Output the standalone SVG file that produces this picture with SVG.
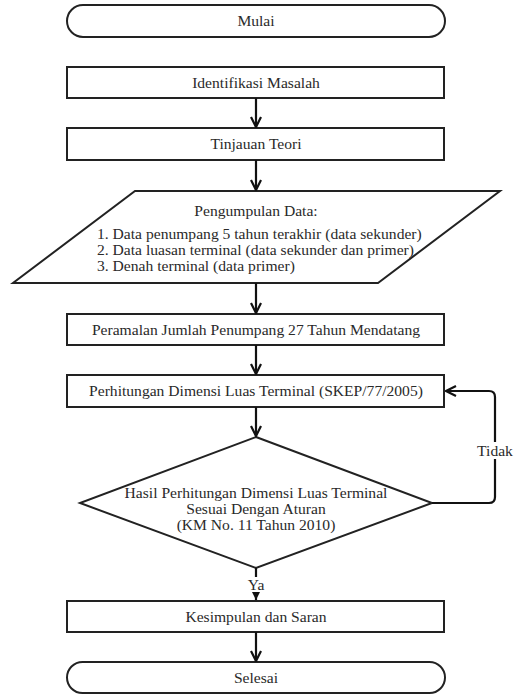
<svg xmlns="http://www.w3.org/2000/svg" width="518" height="694" viewBox="0 0 518 694" font-family="Liberation Serif, Tinos, Times New Roman, DejaVu Serif, serif">
<defs>
<style>
.n{fill:#fff;stroke:#222;stroke-width:2}
.t{font-size:15.6px;fill:#2a2a2a;text-anchor:middle}
.c{fill:none;stroke:#111;stroke-width:2.2}
</style>
<marker id="ah" viewBox="0 0 12 12" refX="11" refY="6" markerWidth="12" markerHeight="12" markerUnits="userSpaceOnUse" orient="auto">
<path d="M1,1 L11,6 L1,11" fill="none" stroke="#111" stroke-width="2.2"/>
</marker>
<marker id="tri" viewBox="0 0 10 10" refX="10" refY="5" markerWidth="8" markerHeight="8" markerUnits="userSpaceOnUse" orient="auto">
<path d="M0,0 L10,5 L0,10 Z" fill="#111"/>
</marker>
</defs>
<rect width="518" height="694" fill="#fff"/>
<g id="mulai"><rect class="n" x="67" y="5" width="378" height="32" rx="16"/><text class="t" x="256" y="26">Mulai</text></g>
<g id="identifikasi"><rect class="n" x="67" y="67" width="377" height="31"/><text class="t" x="256" y="87.5">Identifikasi Masalah</text></g>
<g id="tinjauan"><rect class="n" x="67" y="128" width="377" height="32"/><text class="t" x="256" y="149">Tinjauan Teori</text></g>
<g id="pengumpulan"><polygon class="n" points="135,191 500,191 378,283 13,283"/>
<text class="t" x="256" y="216">Pengumpulan Data:</text>
<text class="t" x="97" y="239" style="text-anchor:start">1. Data penumpang 5 tahun terakhir (data sekunder)</text>
<text class="t" x="97" y="255" style="text-anchor:start">2. Data luasan terminal (data sekunder dan primer)</text>
<text class="t" x="97" y="271" style="text-anchor:start">3. Denah terminal (data primer)</text>
</g>
<g id="peramalan"><rect class="n" x="67" y="314" width="377" height="31"/><text class="t" x="256" y="334.5">Peramalan Jumlah Penumpang 27 Tahun Mendatang</text></g>
<g id="perhitungan"><rect class="n" x="67" y="375" width="377" height="32"/><text class="t" x="256" y="396">Perhitungan Dimensi Luas Terminal (SKEP/77/2005)</text></g>
<g id="keputusan"><polygon class="n" points="256,437 432,503 256,568 80,503"/>
<text class="t" x="256" y="497.5">Hasil Perhitungan Dimensi Luas Terminal</text>
<text class="t" x="256" y="513.5">Sesuai Dengan Aturan</text>
<text class="t" x="256" y="529.5">(KM No. 11 Tahun 2010)</text>
</g>
<g id="kesimpulan"><rect class="n" x="67" y="601" width="377" height="31"/><text class="t" x="256" y="621.5">Kesimpulan dan Saran</text></g>
<g id="selesai"><rect class="n" x="67" y="662" width="378" height="31" rx="15.5"/><text class="t" x="256" y="682.5">Selesai</text></g>
<g id="connectors">
<line class="c" x1="256" y1="98" x2="256" y2="127" marker-end="url(#ah)"/>
<line class="c" x1="256" y1="160" x2="256" y2="190" marker-end="url(#ah)"/>
<line class="c" x1="256" y1="283" x2="256" y2="313" marker-end="url(#ah)"/>
<line class="c" x1="256" y1="345" x2="256" y2="374" marker-end="url(#ah)"/>
<line class="c" x1="256" y1="407" x2="256" y2="436" marker-end="url(#ah)"/>
<path class="c" d="M432,503 H489 Q495,503 495,497 V397 Q495,391 489,391 H446" marker-end="url(#ah)"/>
<line class="c" x1="256" y1="568" x2="256" y2="577"/>
<line class="c" x1="256" y1="592" x2="256" y2="600" marker-end="url(#tri)"/>
<line class="c" x1="256" y1="632" x2="256" y2="661" marker-end="url(#ah)"/>
<rect x="475" y="442" width="42" height="17" fill="#fff"/>
<text class="t" x="495" y="455.5">Tidak</text>
<text class="t" x="256" y="589.5">Ya</text>
</g>
</svg>
